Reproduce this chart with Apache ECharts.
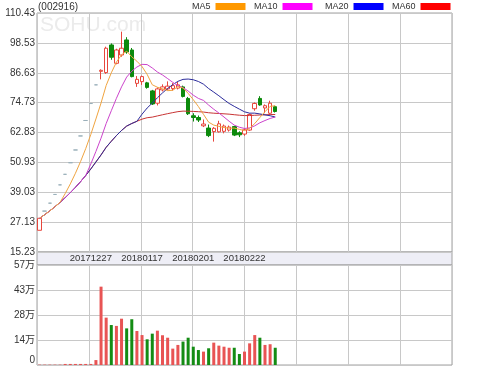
<!DOCTYPE html>
<html><head><meta charset="utf-8">
<script src="https://cdn.jsdelivr.net/npm/echarts@6/dist/echarts.min.js"></script>
<style>html,body{margin:0;padding:0;background:#fff}#c{width:499px;height:366px}</style>
</head><body><div id="c"></div>
<script>
// ---- data ----
const stockCode = '(002916)';
const slotCount = 81;                       // candle slots across the panel
const tickIndex = [10, 20, 30, 40];
const tickLabels = ['20171227', '20180117', '20180201', '20180222'];
const openP  = [23.88,31.53,34.68,38.15,41.97,46.17,50.79,55.87,61.46,67.61,74.37,81.81,
  87.2,86.7,97.7,90.4,93.7,99.7,95.7,82.4,83.1,82.6,79.4,74.5,79.8,80.2,80.3,80.5,81.0,76.4,
  69.5,68.8,65.5,64.6,63.2,63.1,63.3,63.8,65.2,62.7,62.2,63.8,72.3,76.4,72.6,70.5,73.1];
const closeP = [28.66,31.53,34.68,38.15,41.97,46.17,50.79,55.87,61.46,67.61,74.37,81.81,
  87.6,96.4,92.8,95.7,96.4,94.9,85.1,84.0,85.1,80.8,74.2,80.2,81.0,81.3,81.5,81.8,77.2,70.3,
  68.8,67.8,66.2,61.6,64.5,66.3,65.4,65.0,61.8,61.9,63.9,70.0,74.4,73.8,73.5,74.5,71.2];
const lowP   = [23.88,31.53,34.68,38.15,41.97,46.17,50.79,55.87,61.46,67.61,74.37,81.81,
  84.0,86.2,91.8,90.0,93.0,94.2,84.8,81.0,81.8,80.3,73.8,73.6,79.2,79.6,79.5,80.0,76.8,69.8,
  67.2,67.0,65.0,61.0,59.2,62.8,62.5,63.2,61.4,61.0,61.5,63.5,71.5,73.5,70.5,70.2,70.8];
const highP  = [28.66,31.53,34.68,38.15,41.97,46.17,50.79,55.87,61.46,67.61,74.37,81.81,
  88.0,97.0,98.3,96.2,103.0,100.8,96.5,85.3,85.5,83.0,79.8,80.8,82.0,83.2,82.5,83.0,81.5,77.0,
  70.5,69.6,68.0,66.0,65.0,67.5,66.0,65.6,65.5,63.3,64.5,70.4,74.8,77.3,74.0,75.5,73.5];
const volume = [0.2,0.2,0.2,0.2,0.2,0.6,0.6,0.6,0.6,0.6,0.6,2.8,
  44.5,26.9,22.7,22.2,26.3,20.8,26.0,19.3,17.0,14.6,17.8,19.5,16.9,15.5,9.3,11.4,13.3,15.5,
  10.4,8.5,7.6,9.5,12.7,11.0,10.4,9.8,9.8,6.25,7.6,12.3,17.0,15.5,11.4,11.8,9.8]; // 万
const priceMin = 15.23, priceMax = 110.43, priceStep = 11.9;
const volMin = 0, volMax = 56.8, volStep = 14.2;
const maNames = ['MA5', 'MA10', 'MA20', 'MA60'];
const maPeriods = [5, 10, 20, 60];

// ---- build ----
const categories = Array.from({length: slotCount}, (_, i) => String(i));
const labelAt = {};
tickIndex.forEach((k, i) => labelAt[k] = tickLabels[i]);
const candles = openP.map((o, i) => [o, closeP[i], lowP[i], highP[i]]);
const isUp = openP.map((o, i) => closeP[i] >= o);
function ma(n) {
  return closeP.map((_, i) => {
    const s = Math.max(0, i - n + 1); let sum = 0;
    for (let j = s; j <= i; j++) sum += closeP[j];
    return +(sum / (i - s + 1)).toFixed(3);
  });
}
const legendColors = ['#ff9900', '#ff00ff', '#0000ff', '#ff0000'];
const lineColors = ['#f0a440', '#cc44cc', '#2c2c9c', '#c83434'];
const legendLeft = [192, 254, 325, 392];
const FONT = "'Liberation Sans','Noto Sans CJK SC',sans-serif";
const gridLine = '#c8c8c8', border = '#a0a0a0', txt = '#333';

const chart = echarts.init(document.getElementById('c'), null, {renderer: 'canvas'});
const L = 37, R = 47;
const option = {
  animation: false,
  backgroundColor: '#fff',
  title: {text: stockCode, left: 38, top: 2, padding: 0,
    textStyle: {fontSize: 10, fontWeight: 'normal', color: txt, fontFamily: FONT}},
  legend: maNames.map((n, i) => ({
    data: [{name: n, itemStyle: {color: legendColors[i], borderWidth: 0}}],
    left: legendLeft[i], top: 2, padding: 0, align: 'right', icon: 'rect',
    itemWidth: 30, itemHeight: 7, selectedMode: false,
    textStyle: {fontSize: 9, color: txt, fontFamily: FONT}
  })),
  graphic: [
    {type: 'text', left: 40, top: 15, z: -10, silent: true,
      style: {text: 'SOHU.com', fontSize: 21, fill: '#ebebeb', fontFamily: 'Liberation Sans'}},
    {type: 'rect', z: -10, silent: true, shape: {x: 37, y: 252, width: 415, height: 13},
      style: {fill: '#eeeef6', stroke: border, lineWidth: 1}}
  ],
  grid: [
    {left: L, right: R, top: 13, height: 239, show: true, borderColor: border, borderWidth: 1, outerBoundsMode: 'none'},
    {left: L, right: R, top: 265, height: 100, show: true, borderColor: border, borderWidth: 1, outerBoundsMode: 'none'}
  ],
  xAxis: [
    {type: 'category', gridIndex: 0, data: categories, boundaryGap: true,
      axisLine: {show: false}, axisTick: {show: false}, splitLine: {show: false},
      axisLabel: {show: true, interval: (idx) => labelAt[idx] !== undefined,
        formatter: (v, idx) => labelAt[idx] || '', margin: 2,
        fontSize: 9.5, color: txt, fontFamily: FONT}},
    {type: 'category', gridIndex: 1, data: categories, boundaryGap: true,
      axisLine: {show: false}, axisTick: {show: false}, splitLine: {show: false}, axisLabel: {show: false}},
    {type: 'value', gridIndex: 0, min: 0, max: 8, interval: 1, position: 'top',
      axisLine: {show: false}, axisTick: {show: false}, axisLabel: {show: false},
      splitLine: {show: true, lineStyle: {color: gridLine, width: 1}}},
    {type: 'value', gridIndex: 1, min: 0, max: 8, interval: 1, position: 'top',
      axisLine: {show: false}, axisTick: {show: false}, axisLabel: {show: false},
      splitLine: {show: true, lineStyle: {color: gridLine, width: 1}}}
  ],
  yAxis: [
    {type: 'value', gridIndex: 0, min: priceMin, max: priceMax, interval: priceStep, scale: true,
      axisLine: {show: false}, axisTick: {show: false},
      splitLine: {show: true, lineStyle: {color: gridLine, width: 1}},
      axisLabel: {showMinLabel: true, showMaxLabel: true, margin: 2, fontSize: 10, color: txt, fontFamily: FONT,
        formatter: v => v.toFixed(2)}},
    {type: 'value', gridIndex: 1, min: volMin, max: volMax, interval: volStep,
      axisLine: {show: false}, axisTick: {show: false},
      splitLine: {show: true, lineStyle: {color: gridLine, width: 1}},
      axisLabel: {showMinLabel: true, showMaxLabel: true, margin: 2, fontSize: 10, color: txt, fontFamily: FONT,
        formatter: v => v < 0.01 ? '{z|0}' : Math.round(v) + '万',
        rich: {z: {fontSize: 10, color: txt, fontFamily: FONT, padding: [0, 0, 9, 0]}}}}
  ],
  series: [
    {type: 'candlestick', name: 'K', xAxisIndex: 0, yAxisIndex: 0, data: candles, barWidth: 4,
      itemStyle: {color: '#ffffff', color0: '#0c8a0c', borderColor: '#e8463c', borderColor0: '#0c8a0c',
        borderColorDoji: '#9ab0ba', borderWidth: 1}},
    ...maNames.map((n, i) => ({
      type: 'line', name: n, xAxisIndex: 0, yAxisIndex: 0, data: ma(maPeriods[i]),
      showSymbol: false, symbol: 'none', smooth: false,
      itemStyle: {color: legendColors[i]},
      lineStyle: {color: lineColors[i], width: 1}, z: 3 + (3 - i)
    })),
    {type: 'bar', name: 'VOL', xAxisIndex: 1, yAxisIndex: 1, data: volume, barWidth: 3,
      itemStyle: {color: p => isUp[p.dataIndex] ? '#e85454' : '#148c14'}}
  ]
};
chart.setOption(option);
</script></body></html>
